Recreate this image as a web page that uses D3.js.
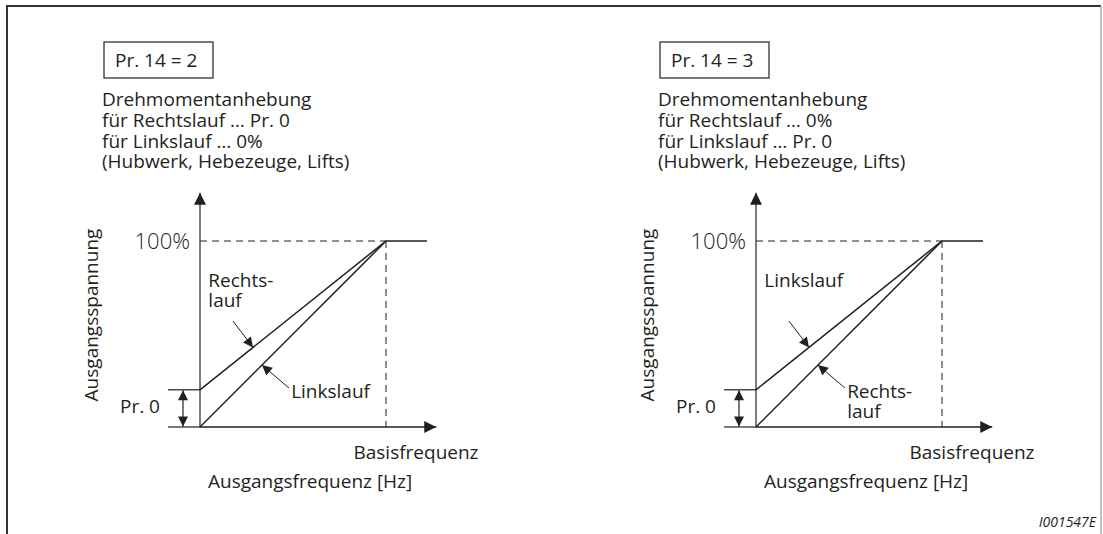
<!DOCTYPE html>
<html>
<head>
<meta charset="utf-8">
<script src="https://cdn.jsdelivr.net/npm/d3@7"></script>
<style>
  html, body { margin: 0; padding: 0; background: #fff; }
  svg { display: block; }
  text { font-family: "Open Sans", "Noto Sans", sans-serif; fill: #231f20; }
</style>
</head>
<body>
<svg id="chart" width="1103" height="534"></svg>
<script>
// ---- data ----
const panelTitles = ["Pr. 14 = 2", "Pr. 14 = 3"];
const panelDescriptions = [
  ["Drehmomentanhebung", "für Rechtslauf … Pr. 0", "für Linkslauf … 0%", "(Hubwerk, Hebezeuge, Lifts)"],
  ["Drehmomentanhebung", "für Rechtslauf … 0%", "für Linkslauf … Pr. 0", "(Hubwerk, Hebezeuge, Lifts)"]
];
const boost = 0.2;            // Pr. 0 torque boost (fraction of 100%)
const baseFreq = 1.0;         // Basisfrequenz (relative)
const maxFreq = 1.22;         // end of flat segment (relative)
const boostedLine = [[0, boost], [baseFreq, 1.0], [maxFreq, 1.0]];
const plainLine = [[0, 0], [baseFreq, 1.0]];
const upperLabels = [["Rechts-", "lauf"], ["Linkslauf"]];
const lowerLabels = [["Linkslauf"], ["Rechts-", "lauf"]];
const yAxisLabel = "Ausgangsspannung";
const xAxisLabel = "Ausgangsfrequenz [Hz]";
const baseLabel = "Basisfrequenz";
const ratedLabel = "100%";
const boostLabel = "Pr. 0";
const figureId = "I001547E";

// ---- layout ----
const svg = d3.select("#chart");
const ink = "#231f20";
const panelAxisX = [200, 756];
const fs = "19px";

// frame
svg.append("path").attr("d", "M7,534 L7,6 L1101,6")
  .attr("fill", "none").attr("stroke", "#333").attr("stroke-width", 2);
svg.append("line").attr("x1", 1101).attr("y1", 6).attr("x2", 1101).attr("y2", 534)
  .attr("stroke", "#aaa").attr("stroke-width", 1.5);

svg.append("text").attr("x", 1096).attr("y", 527).attr("text-anchor", "end")
  .style("font-size", "14px").style("font-style", "italic").text(figureId);

const defs = svg.append("defs");
defs.append("marker").attr("id", "head").attr("viewBox", "0 0 10 10")
  .attr("refX", 10).attr("refY", 5).attr("markerWidth", 12).attr("markerHeight", 10)
  .attr("markerUnits", "userSpaceOnUse").attr("orient", "auto")
  .append("path").attr("d", "M0,0 L10,5 L0,10 Z").attr("fill", ink);
defs.append("marker").attr("id", "axhead").attr("viewBox", "0 0 10 10")
  .attr("refX", 10).attr("refY", 5).attr("markerWidth", 14).attr("markerHeight", 12)
  .attr("markerUnits", "userSpaceOnUse").attr("orient", "auto")
  .append("path").attr("d", "M0,0 L10,5 L0,10 Z").attr("fill", ink);

panelAxisX.forEach((ax, i) => {
  const x = d3.scaleLinear().domain([0, baseFreq]).range([ax, ax + 186]);
  const y = d3.scaleLinear().domain([0, 1]).range([427, 241]);
  const g = svg.append("g");

  // title box
  g.append("rect").attr("x", ax - 96).attr("y", 42).attr("width", 109).attr("height", 36)
    .attr("fill", "none").attr("stroke", ink).attr("stroke-width", 1.2);
  g.append("text").attr("x", ax - 85).attr("y", 67).style("font-size", fs).text(panelTitles[i]);

  // description
  g.selectAll(".desc").data(panelDescriptions[i]).join("text")
    .attr("x", ax - 98).attr("y", (d, k) => 106 + k * 20.8)
    .style("font-size", fs).text(d => d);

  // axes
  g.append("line").attr("x1", x(0)).attr("y1", y(0)).attr("x2", x(0)).attr("y2", y(1.26))
    .attr("stroke", "#444").attr("stroke-width", 1.4).attr("marker-end", "url(#axhead)");
  g.append("line").attr("x1", x(0)).attr("y1", y(0)).attr("x2", x(1.27)).attr("y2", y(0))
    .attr("stroke", ink).attr("stroke-width", 1.4).attr("marker-end", "url(#axhead)");

  // dashed guides
  g.append("line").attr("x1", x(0)).attr("y1", y(1)).attr("x2", x(baseFreq)).attr("y2", y(1))
    .attr("stroke", ink).attr("stroke-width", 1).attr("stroke-dasharray", "7,5");
  g.append("line").attr("x1", x(baseFreq)).attr("y1", y(1)).attr("x2", x(baseFreq)).attr("y2", y(0))
    .attr("stroke", ink).attr("stroke-width", 1).attr("stroke-dasharray", "7,5");

  // V/f lines
  const line = d3.line().x(d => x(d[0])).y(d => y(d[1]));
  g.append("path").attr("d", line(boostedLine)).attr("fill", "none").attr("stroke", ink).attr("stroke-width", 1.5);
  g.append("path").attr("d", line(plainLine)).attr("fill", "none").attr("stroke", ink).attr("stroke-width", 1.5);

  // Pr. 0 dimension
  [0, boost].forEach(v => {
    g.append("line").attr("x1", ax - 32).attr("x2", ax).attr("y1", y(v)).attr("y2", y(v))
      .attr("stroke", ink).attr("stroke-width", 1.2);
  });
  const mid = (y(0) + y(boost)) / 2;
  g.append("line").attr("x1", ax - 17).attr("x2", ax - 17).attr("y1", mid).attr("y2", y(boost) + 0.5)
    .attr("stroke", ink).attr("stroke-width", 1.2).attr("marker-end", "url(#head)");
  g.append("line").attr("x1", ax - 17).attr("x2", ax - 17).attr("y1", mid).attr("y2", y(0) - 0.5)
    .attr("stroke", ink).attr("stroke-width", 1.2).attr("marker-end", "url(#head)");
  g.append("text").attr("x", ax - 80).attr("y", 413).style("font-size", fs).text(boostLabel);

  // 100%
  g.append("text").attr("x", ax - 10).attr("y", y(1) + 8).attr("text-anchor", "end")
    .style("font-size", "22px").style("font-weight", 300).text(ratedLabel);

  // y axis label
  g.append("text").attr("transform", `translate(${ax - 102},315) rotate(-90)`)
    .attr("text-anchor", "middle").style("font-size", fs).text(yAxisLabel);

  // x labels
  g.append("text").attr("x", x(baseFreq) + 30).attr("y", 459).attr("text-anchor", "middle")
    .style("font-size", fs).text(baseLabel);
  g.append("text").attr("x", ax + 8).attr("y", 488).style("font-size", fs).text(xAxisLabel);

  // annotation arrows
  g.append("line").attr("x1", x(0.177)).attr("y1", y(0.57)).attr("x2", x(0.285)).attr("y2", y(0.428))
    .attr("stroke", ink).attr("stroke-width", 1).attr("marker-end", "url(#head)");
  g.append("line").attr("x1", x(0.478)).attr("y1", y(0.21)).attr("x2", x(0.333)).attr("y2", y(0.333))
    .attr("stroke", ink).attr("stroke-width", 1).attr("marker-end", "url(#head)");

  // curve labels
  const up = g.append("text").attr("x", x(0.045)).attr("y", y(0.753)).style("font-size", fs);
  up.selectAll("tspan").data(upperLabels[i]).join("tspan")
    .attr("x", x(0.045)).attr("dy", (d, k) => k ? 20.5 : 0).text(d => d);
  const lo = g.append("text").attr("x", x(0.49)).attr("y", y(0.158)).style("font-size", fs);
  lo.selectAll("tspan").data(lowerLabels[i]).join("tspan")
    .attr("x", x(0.49)).attr("dy", (d, k) => k ? 20.5 : 0).text(d => d);
});
</script>
</body>
</html>
